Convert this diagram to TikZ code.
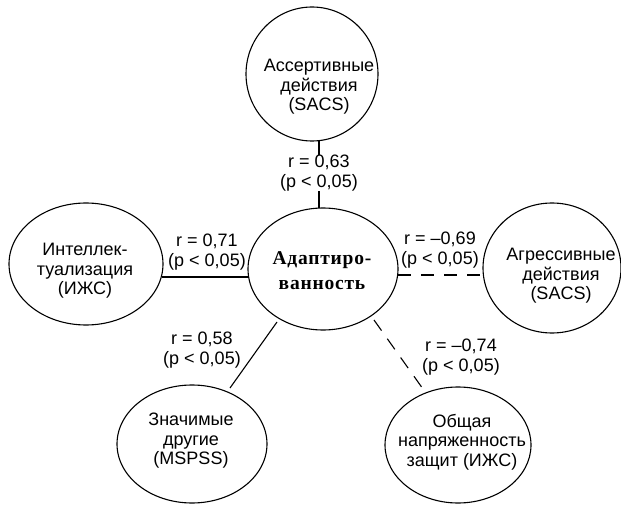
\documentclass[tikz,border=0pt]{standalone}
\usepackage{fontspec}
\setmainfont{Liberation Sans}
\newfontfamily\serifbold[LetterSpace=4]{Liberation Serif}
\begin{document}
\begin{tikzpicture}[x=1pt,y=-1pt,
  ellline/.style={line width=1.1pt},
  txt/.style={align=center,inner sep=0pt,font=\fontsize{18}{19.5}\selectfont},
  lbl/.style={align=center,inner sep=0pt,font=\fontsize{18}{20}\selectfont},
  conn/.style={line width=1.1pt},
  dconn/.style={line width=1.1pt,dash pattern=on 13pt off 10pt}]
\useasboundingbox (0,0) rectangle (621,505);
% ellipses
\draw[ellline] (312,74) ellipse [x radius=66, y radius=67];
\draw[ellline] (323,269) ellipse [x radius=75, y radius=61];
\draw[ellline] (86,264) ellipse [x radius=77, y radius=61];
\draw[ellline] (552,268) ellipse [x radius=69, y radius=65];
\draw[ellline] (192,444) ellipse [x radius=75, y radius=59];
\draw[ellline] (458,445) ellipse [x radius=73, y radius=58];
% texts
\node[txt] (top) at (319,87) {Ассертивные\\действия\\(SACS)};
\node[align=center,inner sep=0pt,font=\serifbold\bfseries\fontsize{19.5}{25}\selectfont] (c) at (322,271) {Адаптиро-\\ванность};
\node[txt] (left) at (85,271) {Интеллек-\\туализация\\(ИЖС)};
\node[txt] (right) at (561,276) {Агрессивные\\действия\\(SACS)};
\node[txt] (bl) at (191,441) {Значимые\\другие\\(MSPSS)};
\node[txt] (br) at (462,442) {Общая\\напряженность\\защит (ИЖС)};
% connector end points on ellipse outlines
\coordinate (topb) at (319,141);
\coordinate (ctop) at (319,208);
\coordinate (cleft) at (248,277);
\coordinate (lr) at (162,277);
\coordinate (cright) at (398,275);
\coordinate (rl) at (484,275);
\coordinate (cbl) at (277,322);
\coordinate (blc) at (230,388);
\coordinate (cbr) at (374,320);
\coordinate (brc) at (423,389);
% connectors
\draw[conn] (topb) -- (ctop);
\draw[conn] (lr) -- (cleft);
\draw[dconn] (cright) -- (rl);
\draw[conn] (cbl) -- (blc);
\draw[dconn] (cbr) -- (brc);
% labels
\node[lbl,fill=white] (l1) at (319,173) {r = 0,63\\(p < 0,05)};
\node[lbl] (l2) at (207,252) {r = 0,71\\(p < 0,05)};
\node[lbl] (l3) at (440,250) {r = –0,69\\(p < 0,05)};
\node[lbl] (l4) at (202,350) {r = 0,58\\(p < 0,05)};
\node[lbl] (l5) at (461,357) {r = –0,74\\(p < 0,05)};
\end{tikzpicture}
\end{document}
